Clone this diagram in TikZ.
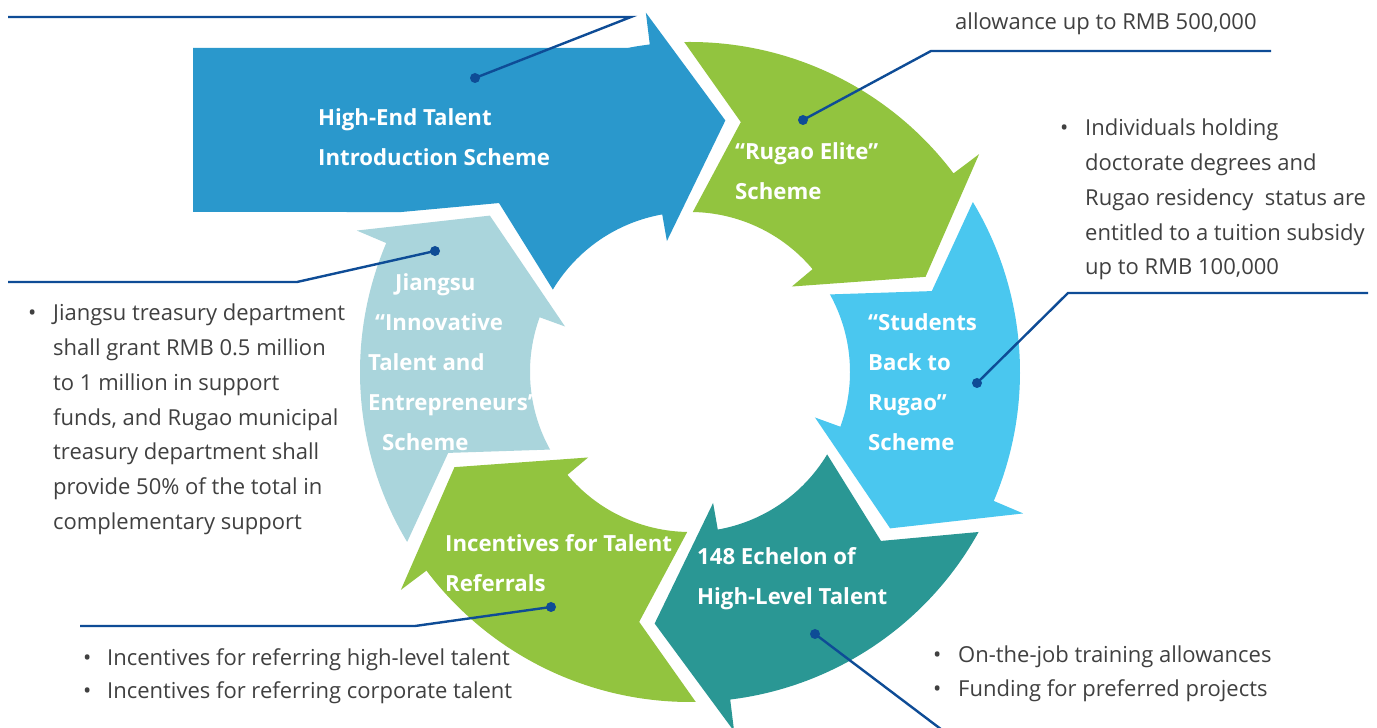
\documentclass[tikz,border=0pt]{standalone}
\usepackage{fontspec}
\setmainfont{Open Sans}
\definecolor{blueA}{HTML}{2A98CC}
\definecolor{greenA}{HTML}{92C43F}
\definecolor{cyanA}{HTML}{4AC7EF}
\definecolor{tealA}{HTML}{2A9794}
\definecolor{lightA}{HTML}{AAD5DC}
\definecolor{lineC}{HTML}{0E4C96}
\definecolor{textC}{HTML}{404040}
\newcommand\ringseg[2]{%
  \pgfmathsetmacro\rsA{#1+54}%
  \pgfmathsetmacro\rsB{#1-15}%
  \pgfmathsetmacro\rsC{#1+3}%
  \pgfmathsetmacro\rsD{#1+52}%
  \pgfmathsetmacro\rsE{#1+41.5}%
  \fill[#2] (\rsA:330pt) arc[start angle=\rsA, end angle=#1, radius=330pt]
    -- (#1:362pt) -- (\rsB:254pt) -- (\rsC:133pt) -- (\rsC:160pt)
    arc[start angle=\rsC, end angle=\rsD, radius=160pt] -- (\rsE:255pt) -- cycle;}
\begin{document}
\begin{tikzpicture}[x=1pt,y=1pt,
  bodytxt/.style={text=textC, inner sep=0pt, anchor=base west, font=\fontsize{22.0}{34.7}\selectfont},
  lbl/.style={text=white, inner sep=0pt, anchor=base west, font=\fontsize{22.2}{40}\selectfont\bfseries},
  callout/.style={draw=lineC, line width=2.4pt},
  dot/.style={circle, fill=lineC, inner sep=0pt, minimum size=10pt},
]
\clip (0,0) rectangle (1377,728);
\fill[white] (0,0) rectangle (1377,728);
\begin{scope}[shift={(690,356)}]
  \fill[blueA] (-497,160) -- (-497,324) -- (100.9:330pt)
    arc[start angle=100.9, end angle=97, radius=330pt]
    -- (97:362pt) -- (82:254pt) -- (100:133pt) -- (100:160pt)
    arc[start angle=100, end angle=149, radius=160pt]
    -- (138.5:255pt) -- (151:330pt) -- cycle;
  \ringseg{37}{greenA}
  \ringseg{-23}{cyanA}
  \ringseg{-83}{tealA}
  \ringseg{-143}{greenA}
  \ringseg{157}{lightA}
\end{scope}

% labels
\node[lbl] (lHigh) at (318,602) {\parbox[t]{300pt}{High-End Talent\\Introduction Scheme}};
\node[lbl] (lElite) at (735,568) {\parbox[t]{300pt}{“Rugao Elite”\\Scheme}};
\node[lbl] (lStud) at (868,397) {\parbox[t]{300pt}{“Students\\Back to\\Rugao”\\Scheme}};
\node[lbl] (lEch) at (697,163) {\parbox[t]{300pt}{148 Echelon of\\High-Level Talent}};
\node[lbl] (lInc) at (445,176) {\parbox[t]{300pt}{Incentives for Talent\\Referrals}};
\node[lbl] (lJia) at (368,437) {\parbox[t]{300pt}{\hspace*{27pt}Jiangsu\\\hspace*{7pt}“Innovative\\Talent and\\Entrepreneurs”\\\hspace*{14pt}Scheme}};

% text blocks
\node[bodytxt] (tTop) at (955,698) {allowance up to RMB 500,000};
\node[bodytxt] (bRight) at (1060,592) {•};
\node[bodytxt] (tRight) at (1085,592) {\parbox[t]{300pt}{Individuals holding\\doctorate degrees and\\Rugao residency\ \ status are\\entitled to a tuition subsidy\\up to RMB 100,000}};
\node[bodytxt] (bLeft) at (28,407) {•};
\node[bodytxt] (tLeft) at (53,407) {\parbox[t]{320pt}{Jiangsu treasury department\\shall grant RMB 0.5 million\\to 1 million in support\\funds, and Rugao municipal\\treasury department shall\\provide 50\% of the total in\\complementary support}};
\node[bodytxt] (bBL1) at (83,62) {•};
\node[bodytxt] (tBL1) at (107,62) {Incentives for referring high-level talent};
\node[bodytxt] (bBL2) at (83,29) {•};
\node[bodytxt] (tBL2) at (107,29) {Incentives for referring corporate talent};
\node[bodytxt] (bBR1) at (933,65) {•};
\node[bodytxt] (tBR1) at (958,65) {On-the-job training allowances};
\node[bodytxt] (bBR2) at (933,31) {•};
\node[bodytxt] (tBR2) at (958,31) {Funding for preferred projects};

% callouts
\node[dot] (d1) at (475,650) {};
\node[dot] (d2) at (435,477) {};
\node[dot] (d3) at (803,608) {};
\node[dot] (d4) at (977,345) {};
\node[dot] (d5) at (551,121) {};
\node[dot] (d6) at (815,94) {};
\coordinate (c1a) at (8,711);  \coordinate (c1b) at (631,711);
\coordinate (c2a) at (8,446);  \coordinate (c2b) at (297,446);
\coordinate (c3a) at (1271,677); \coordinate (c3b) at (931,677);
\coordinate (c4a) at (1368,435); \coordinate (c4b) at (1068,435);
\coordinate (c5a) at (80,102); \coordinate (c5b) at (415,102);
\coordinate (c6a) at (950,-8);
\draw[callout] (c1a) -- (c1b) -- (d1.center);
\draw[callout] (c2a) -- (c2b) -- (d2.center);
\draw[callout] (c3a) -- (c3b) -- (d3.center);
\draw[callout] (c4a) -- (c4b) -- (d4.center);
\draw[callout] (c5a) -- (c5b) -- (d5.center);
\draw[callout] (d6.center) -- (c6a);
\end{tikzpicture}
\end{document}
